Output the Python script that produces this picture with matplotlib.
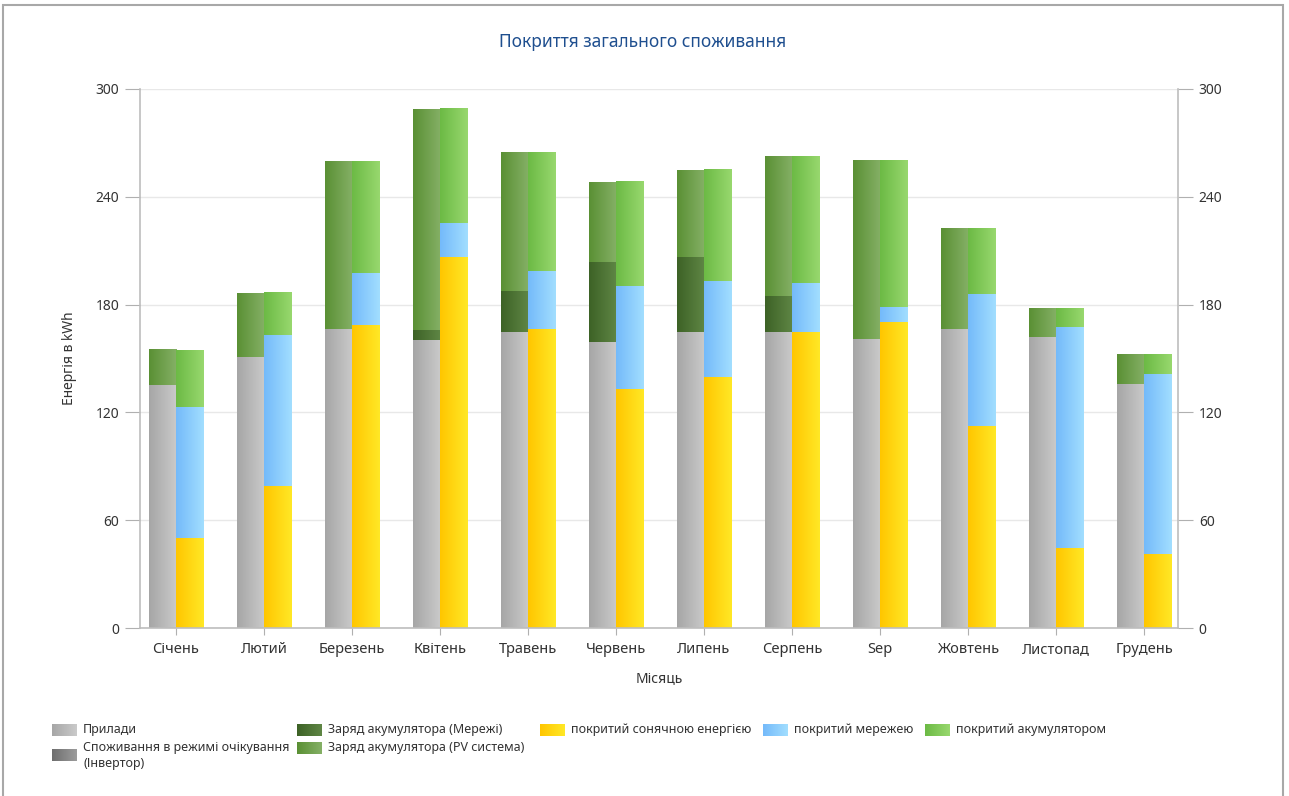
import numpy as np
import matplotlib
matplotlib.use("Agg")
import matplotlib.pyplot as plt
from matplotlib.colors import to_rgb
from matplotlib.patches import Rectangle

plt.rcParams['font.family'] = ['Noto Sans', 'DejaVu Sans']

# ---- data (kWh per month) ----
months = ['Січень', 'Лютий', 'Березень', 'Квітень', 'Травень', 'Червень',
          'Липень', 'Серпень', 'Sep', 'Жовтень', 'Листопад', 'Грудень']

# consumption side (left bar)
appliances = [135.2, 151.0, 166.3, 160.3, 164.6, 159.0, 164.6, 164.7, 160.8, 166.4, 161.8, 135.6]
standby = [0, 0, 0, 0, 0, 0, 0, 0, 0, 0, 0, 0]
charge_grid = [0, 0, 0, 5.6, 23.1, 44.9, 41.9, 20.1, 0, 0, 0, 0]
charge_pv = [19.5, 35.5, 93.4, 122.8, 77.0, 44.3, 48.4, 77.6, 99.5, 55.9, 15.6, 16.5]

# coverage side (right bar)
by_solar = [49.9, 79.0, 168.6, 206.7, 166.2, 133.0, 139.5, 164.6, 170.3, 112.4, 44.5, 41.4]
by_grid = [73.3, 84.1, 29.2, 18.5, 32.5, 57.3, 53.6, 27.6, 8.4, 73.5, 122.8, 100.1]
by_battery = [31.5, 23.4, 61.9, 63.5, 65.7, 57.9, 61.8, 70.2, 81.6, 36.4, 10.1, 10.6]

yticks = [0, 60, 120, 180, 240, 300]

# ---- styling ----
grad = {
    'appl':    ('#a6a6a6', '#cacaca'),
    'standby': ('#6e6e6e', '#9c9c9c'),
    'cgrid':   ('#3d6226', '#5f8645'),
    'cpv':     ('#5a9034', '#85b066'),
    'solar':   ('#ffc600', '#ffe826'),
    'grid':    ('#74bafa', '#a2deff'),
    'batt':    ('#6cba45', '#98d86e'),
}


def gradient_img(c0, c1, n=64):
    a, b = np.array(to_rgb(c0)), np.array(to_rgb(c1))
    t = np.linspace(0, 1, n)[:, None]
    return (a + (b - a) * t)[None, :, :]


W, H = 1289, 796
fig = plt.figure(figsize=(W / 100, H / 100), dpi=100)
ax = fig.add_axes([140 / W, 1 - 628 / H, (1178 - 140) / W, (628 - 89) / H])

x = np.arange(len(months))
bw = 0.307


def stacked(xpos, series, keys):
    bottom = np.zeros(len(months))
    for vals, key in zip(series, keys):
        vals = np.asarray(vals, dtype=float)
        bars = ax.bar(xpos, vals, bw, bottom=bottom, align='edge',
                      color='none', edgecolor='none', zorder=2)
        img = gradient_img(*grad[key])
        for r in bars:
            if r.get_height() <= 0:
                continue
            x0, y0 = r.get_x(), r.get_y()
            ax.imshow(img, extent=[x0, x0 + r.get_width(), y0, y0 + r.get_height()],
                      aspect='auto', interpolation='bilinear', zorder=2)
        bottom = bottom + vals


# consumption bar left of the tick, coverage bar right of it
stacked(x - bw, [appliances, standby, charge_grid, charge_pv],
        ['appl', 'standby', 'cgrid', 'cpv'])
stacked(x, [by_solar, by_grid, by_battery],
        ['solar', 'grid', 'batt'])

ax.set_xlim(-0.409, 11.386)
ax.set_ylim(0, 300)
ax.set_aspect('auto')

ax.set_xticks(x)
ax.set_xticklabels(months, fontsize=10.5, color='#333333')
ax.set_yticks(yticks)
ax.set_yticklabels([str(v) for v in yticks], fontsize=10, color='#333333')
ax.tick_params(axis='y', length=11, color='#b0b0b0', labelright=True, right=True, pad=4)
ax.tick_params(axis='x', length=5, color='#b0b0b0', pad=5)
ax.yaxis.grid(True, color='#e8e8e8', linewidth=1, zorder=0)
ax.set_axisbelow(True)
for s in ['left', 'right', 'bottom']:
    ax.spines[s].set_color('#bdbdbd')
    ax.spines[s].set_linewidth(1.2)
ax.spines['top'].set_visible(False)

ax.set_xlabel('Місяць', fontsize=10, color='#333333', labelpad=10)
ax.set_ylabel('Енергія в kWh', fontsize=10, color='#333333', labelpad=13)

fig.text(643 / W, 1 - 42 / H, 'Покриття загального споживання',
         ha='center', va='center', fontsize=12.5, color='#1f4f8f')

# outer frame
fig.add_artist(Rectangle((3 / W, -0.02), (1283 - 3) / W, 1.02 - 5 / H,
                         transform=fig.transFigure, fill=False,
                         edgecolor='#a8a8a8', linewidth=1.5))

# ---- legend ----
legend_items = [
    (52, 730, 'appl', 'Прилади'),
    (52, 755, 'standby', 'Споживання в режимі очікування\n(Інвертор)'),
    (297, 730, 'cgrid', 'Заряд акумулятора (Мережі)'),
    (297, 748, 'cpv', 'Заряд акумулятора (PV система)'),
    (540, 730, 'solar', 'покритий сонячною енергією'),
    (763, 730, 'grid', 'покритий мережею'),
    (925, 730, 'batt', 'покритий акумулятором'),
]
for px, py, key, label in legend_items:
    sw = fig.add_axes([px / W, 1 - (py + 6) / H, 25 / W, 12 / H])
    sw.imshow(gradient_img(*grad[key]), aspect='auto', interpolation='bilinear')
    sw.axis('off')
    if '\n' in label:
        first, second = label.split('\n')
        fig.text((px + 31) / W, 1 - (py - 7) / H, first, ha='left', va='center',
                 fontsize=9, color='#333333')
        fig.text((px + 31) / W, 1 - (py + 9) / H, second, ha='left', va='center',
                 fontsize=9, color='#333333')
    else:
        fig.text((px + 31) / W, 1 - py / H, label, ha='left', va='center',
                 fontsize=9, color='#333333')

fig.savefig('out.png', dpi=100)
